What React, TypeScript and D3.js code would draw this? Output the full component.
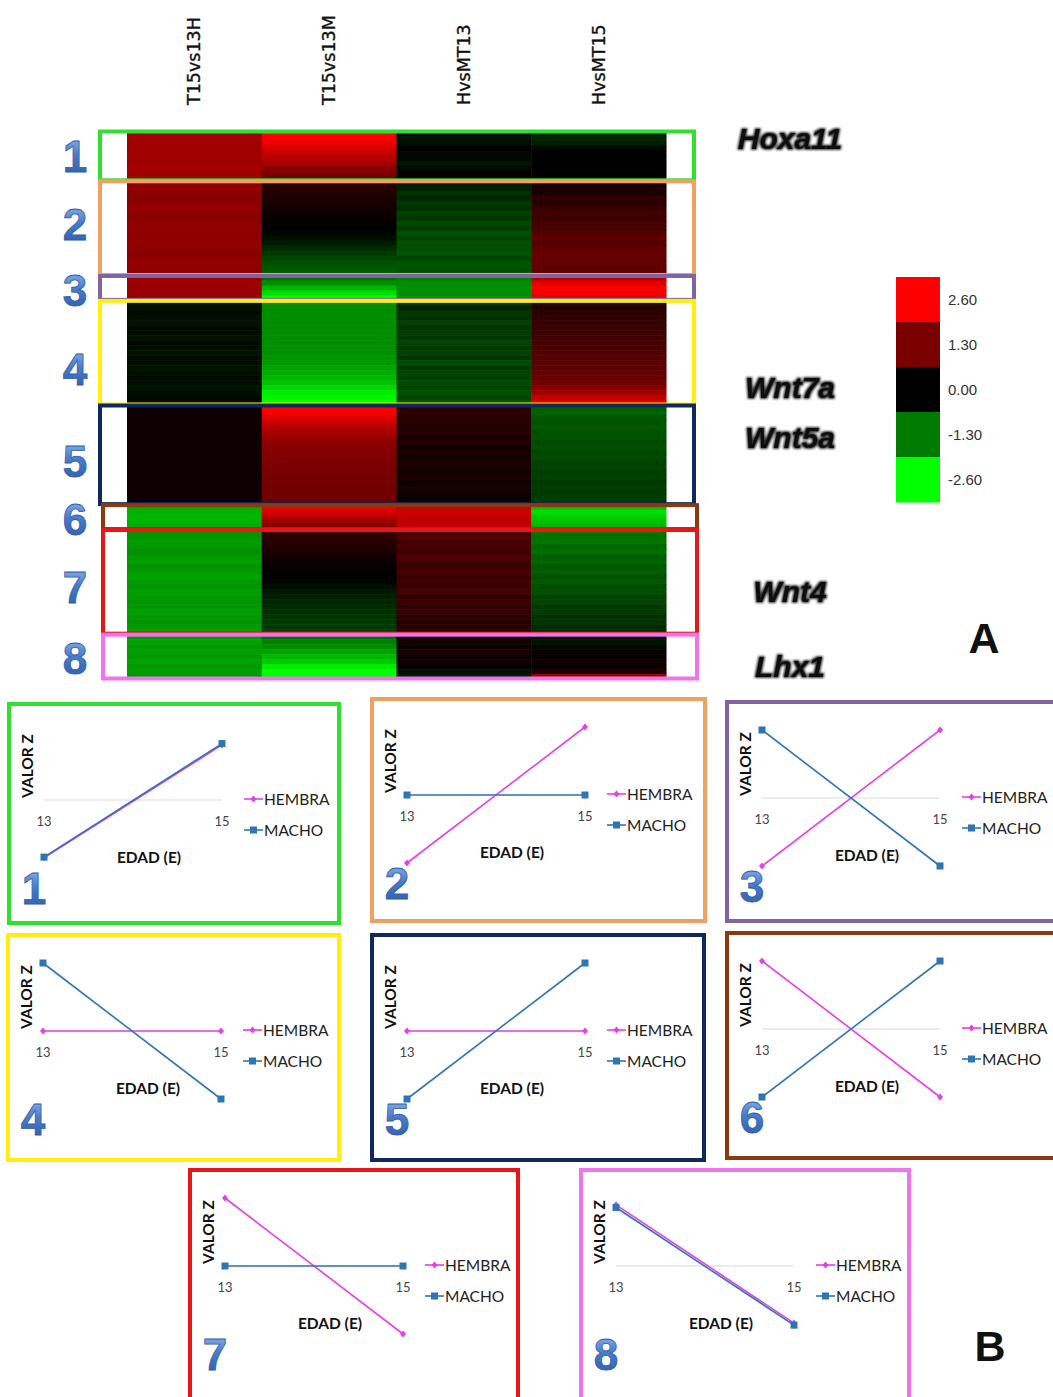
import * as d3 from 'd3';

// ---- heatmap data (log ratios, one row = one gene, columns in order) ----
const columns = ['T15vs13H', 'T15vs13M', 'HvsMT13', 'HvsMT15'];

const cluster1 = [
  [1.7, 2.6, -0.1, -0.4], [1.7, 2.5, -0.2, -0.4], [1.65, 2.4, -0.15, -0.3], [1.65, 2.2, 0.05, -0.1],
  [1.7, 2.0, -0.1, 0.0], [1.65, 1.9, -0.05, 0.0], [1.65, 1.7, -0.25, 0.0], [1.7, 1.5, -0.1, 0.05],
  [1.65, 1.3, 0.05, 0.0], [1.7, 1.2, 0.1, 0.1],
];
const cluster2 = [
  [1.5, 0.45, -0.3, 0.25], [1.55, 0.4, -0.35, 0.3], [1.5, 0.35, -0.5, 0.3], [1.45, 0.3, -0.4, 0.5],
  [1.5, 0.25, -0.6, 0.4], [1.55, 0.2, -0.5, 0.6], [1.5, 0.15, -0.7, 0.7], [1.45, 0.1, -0.6, 0.6],
  [1.5, 0.05, -0.8, 0.8], [1.55, 0.0, -0.65, 0.75], [1.5, -0.05, -0.85, 0.9], [1.5, -0.15, -0.7, 1.0],
  [1.55, -0.3, -0.9, 0.9], [1.5, -0.45, -0.8, 1.0], [1.45, -0.6, -0.9, 1.1], [1.5, -0.75, -0.75, 1.05],
  [1.55, -0.85, -0.9, 1.1], [1.5, -0.95, -0.85, 1.0], [1.5, -1.0, -0.9, 1.1],
];
const cluster3 = [
  [1.6, -1.2, -1.4, 1.9], [1.65, -1.5, -1.5, 2.3], [1.6, -1.9, -1.5, 2.6], [1.6, -2.3, -1.5, 2.5],
  [1.55, -2.6, -1.55, 2.3],
];
const cluster4 = [
  [-0.15, -1.5, -0.5, 0.35], [-0.2, -1.5, -0.4, 0.4], [-0.1, -1.5, -0.6, 0.45], [-0.15, -1.5, -0.5, 0.5],
  [-0.2, -1.5, -0.7, 0.55], [-0.1, -1.5, -0.5, 0.6], [-0.15, -1.5, -0.65, 0.65], [-0.2, -1.5, -0.55, 0.7],
  [-0.1, -1.5, -0.75, 0.75], [-0.15, -1.5, -0.6, 0.8], [-0.2, -1.5, -0.7, 0.85], [-0.1, -1.55, -0.55, 0.9],
  [-0.15, -1.6, -0.8, 0.95], [-0.2, -1.7, -0.6, 1.0], [-0.15, -1.8, -0.75, 1.05], [-0.1, -1.9, -0.65, 1.1],
  [-0.15, -2.0, -0.8, 1.2], [-0.2, -2.2, -0.7, 1.4], [-0.15, -2.4, -0.85, 1.7], [-0.1, -2.5, -0.75, 2.0],
  [-0.15, -2.6, -0.9, 2.2],
];
const cluster5 = [
  [0.15, 2.6, 0.5, -1.0], [0.15, 2.5, 0.45, -1.05], [0.15, 2.3, 0.4, -0.95], [0.15, 2.1, 0.45, -0.9],
  [0.15, 1.9, 0.35, -0.95], [0.15, 1.75, 0.4, -0.85], [0.15, 1.6, 0.3, -0.9], [0.15, 1.5, 0.35, -0.8],
  [0.15, 1.45, 0.25, -0.85], [0.15, 1.4, 0.3, -0.75], [0.15, 1.35, 0.2, -0.8], [0.15, 1.35, 0.3, -0.7],
  [0.15, 1.3, 0.25, -0.75], [0.15, 1.3, 0.2, -0.65], [0.15, 1.25, 0.3, -0.7], [0.15, 1.25, 0.15, -0.6],
  [0.15, 1.2, 0.25, -0.65], [0.15, 1.2, 0.2, -0.6], [0.15, 1.2, 0.1, -0.65], [0.15, 1.15, 0.2, -0.6],
];
const cluster6 = [
  [-1.8, 2.4, 2.0, -2.0], [-1.85, 2.2, 2.1, -2.3], [-1.9, 1.9, 2.0, -2.1], [-1.85, 1.6, 1.95, -2.0],
  [-1.8, 1.4, 2.0, -1.9],
];
const cluster7 = [
  [-1.6, 0.5, 0.6, -1.3], [-1.55, 0.45, 0.9, -1.2], [-1.65, 0.4, 0.7, -1.25], [-1.6, 0.35, 0.8, -1.1],
  [-1.5, 0.3, 0.6, -1.2], [-1.6, 0.2, 0.85, -1.0], [-1.65, 0.15, 0.7, -1.1], [-1.55, 0.1, 0.6, -0.95],
  [-1.6, 0.05, 0.8, -1.0], [-1.7, 0.0, 0.55, -0.85], [-1.6, -0.05, 0.7, -0.95], [-1.55, -0.15, 0.6, -0.8],
  [-1.65, -0.25, 0.75, -0.85], [-1.6, -0.35, 0.5, -0.7], [-1.55, -0.4, 0.65, -0.75], [-1.6, -0.45, 0.5, -0.6],
  [-1.65, -0.5, 0.6, -0.65], [-1.6, -0.55, 0.45, -0.5], [-1.55, -0.6, 0.4, -0.55], [-1.6, -0.6, 0.45, -0.45],
  [-1.65, -0.65, 0.35, -0.4],
];
const cluster8 = [
  [-1.6, -1.2, 0.15, -0.15], [-1.7, -1.35, 0.25, -0.2], [-1.6, -1.5, 0.1, -0.1], [-1.65, -1.7, 0.3, 0.1],
  [-1.6, -1.9, 0.15, 0.05], [-1.7, -2.1, 0.2, 0.15], [-1.6, -2.4, 0.05, 0.1], [-1.65, -2.6, -0.2, 0.3],
  [-1.6, -2.6, -0.3, 1.6],
];
const clusters = [cluster1, cluster2, cluster3, cluster4, cluster5, cluster6, cluster7, cluster8];
const clusterColors = ['#2fe02f', '#f0a060', '#8064a2', '#ffee10', '#10285c', '#8b3a0f', '#e81616', '#ee74ee'];
const clusterShift = [0, 0, 0, 0, 0, 3, 3, 3];
const numberNudge = [0, -4, 2, 16, 6, 2, 5, 1];

const geneLabels = [
  { gene: 'Hoxa11', row: 1 },
  { gene: 'Wnt7a', row: 51 },
  { gene: 'Wnt5a', row: 61 },
  { gene: 'Wnt4', row: 92 },
  { gene: 'Lhx1', row: 107 },
];

const legendValues = [2.6, 1.3, 0, -1.3, -2.6];

// ---- panel B data (z-score per sex at E13 / E15) ----
const ages = [13, 15];
const hembraZ = [[-0.85, 0.81], [-1, 1], [-1, 1], [0, 0], [0, 0], [1, -1], [1, -1], [0.9, -0.84]];
const machoZ = [[-0.84, 0.83], [0, 0], [1, -1], [1, -1], [-1, 1], [-1, 1], [0, 0], [0.86, -0.87]];

const panelBoxes = [
  { x: 9, y: 704, w: 330, h: 219 },
  { x: 372, y: 699, w: 333, h: 222 },
  { x: 727, y: 702, w: 332, h: 219 },
  { x: 8, y: 935, w: 331, h: 225 },
  { x: 372, y: 935, w: 332, h: 225 },
  { x: 727, y: 933, w: 332, h: 225 },
  { x: 190, y: 1170, w: 328, h: 232 },
  { x: 581, y: 1170, w: 328, h: 232 },
];

const HEMBRA_COLOR = '#e63fe6';
const MACHO_COLOR = '#2e75b6';

const heatColor = d3.scaleLinear<string>()
  .domain([-2.6, -1.3, 0, 1.3, 2.6])
  .range(['#00ff00', '#007a00', '#000000', '#7a0000', '#ff0000'])
  .clamp(true);

const numberFont = "'Liberation Sans', Arial, sans-serif";
const panelFont = "Lato, 'Open Sans', sans-serif";
const fmt = (v: number) => d3.format('.2f')(v).replace('\u2212', '-');

function BlueNumber({ x, y, label, size = 44 }: { x: number; y: number; label: string; size?: number }) {
  return (
    <text x={x} y={y} fontFamily={numberFont} fontWeight="bold" fontSize={size}
      fill="url(#numGrad)" stroke="#2f5ea8" strokeWidth={0.8} textAnchor="middle">
      {label}
    </text>
  );
}

function Panel({ index }: { index: number }) {
  const b = panelBoxes[index];
  const zero = b.y + 96;
  const x = d3.scaleLinear().domain([13, 15]).range([b.x + 35, b.x + 213]);
  const y = d3.scaleLinear().domain([-1, 1]).range([zero + 68, zero - 68]);
  const line = d3.line<number>().x((_, i) => x(ages[i])).y(d => y(d));
  const hem = hembraZ[index];
  const mac = machoZ[index];
  const lx = b.x + 235;
  const diamond = (cx: number, cy: number) => `M${cx},${cy - 3.5}L${cx + 3},${cy}L${cx},${cy + 3.5}L${cx - 3},${cy}Z`;
  return (
    <g>
      <rect x={b.x} y={b.y} width={b.w} height={b.h} fill="#fff" stroke={clusterColors[index]} strokeWidth={4} />
      <line x1={x(13)} x2={x(15)} y1={y(0)} y2={y(0)} stroke="#d9d9d9" strokeWidth={1.2} />
      {ages.map(a => (
        <text key={a} x={x(a)} y={zero + 26} fontFamily={panelFont} fontSize={13} fill="#444" textAnchor="middle">{a}</text>
      ))}
      <path d={line(hem) || ''} fill="none" stroke={HEMBRA_COLOR} strokeWidth={1.6} />
      {hem.map((v, i) => <path key={i} d={diamond(x(ages[i]), y(v))} fill={HEMBRA_COLOR} />)}
      <path d={line(mac) || ''} fill="none" stroke={MACHO_COLOR} strokeWidth={1.6} />
      {mac.map((v, i) => <rect key={i} x={x(ages[i]) - 3.5} y={y(v) - 3.5} width={7} height={7} fill={MACHO_COLOR} />)}
      <text transform={`translate(${b.x + 24},${b.y + 62}) rotate(-90)`} textAnchor="middle"
        fontFamily={panelFont} fontWeight="bold" fontSize={15.5} fill="#111">VALOR Z</text>
      <text x={b.x + 140} y={b.y + 159} textAnchor="middle" fontFamily={panelFont} fontWeight="bold" fontSize={15.5} fill="#111">EDAD (E)</text>
      <line x1={lx} x2={lx + 19} y1={b.y + 95} y2={b.y + 95} stroke={HEMBRA_COLOR} strokeWidth={1.6} />
      <path d={diamond(lx + 9.5, b.y + 95)} fill={HEMBRA_COLOR} />
      <text x={lx + 20} y={b.y + 100.5} fontFamily={panelFont} fontSize={15.5} fill="#222">HEMBRA</text>
      <line x1={lx} x2={lx + 19} y1={b.y + 126} y2={b.y + 126} stroke={MACHO_COLOR} strokeWidth={1.6} />
      <rect x={lx + 6} y={b.y + 122.5} width={7} height={7} fill={MACHO_COLOR} />
      <text x={lx + 20} y={b.y + 131.5} fontFamily={panelFont} fontSize={15.5} fill="#222">MACHO</text>
      <BlueNumber x={b.x + 25} y={b.y + 200} label={String(index + 1)} />
    </g>
  );
}

export default function App() {
  const allRows = clusters.flat();
  const xCol = d3.scaleBand().domain(columns).range([127, 666]);
  const yRow = d3.scaleBand<number>().domain(d3.range(allRows.length)).range([131, 679]);
  const bw = yRow.bandwidth();

  let start = 0;
  const spans = clusters.map(c => {
    const s = { start, count: c.length };
    start += c.length;
    return s;
  });

  const legendY = d3.scaleBand<number>().domain(legendValues).range([277, 502]);

  return (
    <svg width={1053} height={1397} style={{ position: 'absolute', left: 0, top: 0, background: '#fff' }}>
      <defs>
        <linearGradient id="numGrad" x1="0" y1="0" x2="0" y2="1">
          <stop offset="0%" stopColor="#9dbdf0" />
          <stop offset="45%" stopColor="#4a7dcc" />
          <stop offset="100%" stopColor="#2a58a6" />
        </linearGradient>
        <filter id="glow" x="-10%" y="-30%" width="120%" height="160%">
          <feMorphology in="SourceAlpha" operator="dilate" radius={1.3} result="d" />
          <feGaussianBlur in="d" stdDeviation={1.2} result="b" />
          <feFlood floodColor="#333" />
          <feComposite in2="b" operator="in" result="halo" />
          <feMerge>
            <feMergeNode in="halo" />
            <feMergeNode in="SourceGraphic" />
          </feMerge>
        </filter>
      </defs>

      {/* column headers */}
      {columns.map(c => (
        <text key={c} transform={`translate(${(xCol(c) || 0) + xCol.bandwidth() / 2},105) rotate(-90)`}
          fontFamily="'DejaVu Sans', Verdana, sans-serif" fontSize={17.5} fill="#111" stroke="#111"
          strokeWidth={0.35} dominantBaseline="central">
          {c}
        </text>
      ))}

      {/* heat cells */}
      {allRows.map((row, i) =>
        row.map((v, j) => (
          <rect key={`${i}-${j}`} x={xCol(columns[j])} y={yRow(i)} width={xCol.bandwidth() + 0.5}
            height={bw + 0.6} fill={heatColor(v)} />
        ))
      )}

      {/* cluster boxes and numbers */}
      {spans.map((s, k) => {
        const y0 = (yRow(s.start) || 0) + 0.5;
        const h = s.count * bw - 1;
        return (
          <g key={k}>
            <rect x={100 + clusterShift[k]} y={y0} width={594} height={h} fill="none"
              stroke={clusterColors[k]} strokeWidth={4} />
            <BlueNumber x={75} y={y0 + h / 2 + 16 + numberNudge[k]} label={String(k + 1)} />
          </g>
        );
      })}

      {/* gene names */}
      {geneLabels.map(g => (
        <text key={g.gene} x={790} y={(yRow(g.row) || 0) + bw / 2} textAnchor="middle" dominantBaseline="central"
          fontFamily={numberFont} fontWeight="bold" fontStyle="italic" fontSize={30} fill="#111" filter="url(#glow)">
          {g.gene}
        </text>
      ))}

      {/* colour legend */}
      {legendValues.map(v => (
        <g key={v}>
          <rect x={896} y={legendY(v)} width={44} height={legendY.bandwidth() + 0.5} fill={heatColor(v)} />
          <text x={948} y={(legendY(v) || 0) + legendY.bandwidth() / 2 + 5} fontFamily="'Liberation Sans', Arial, sans-serif"
            fontSize={15} fill="#333">{fmt(v)}</text>
        </g>
      ))}

      <text x={984} y={653} textAnchor="middle" fontFamily={numberFont} fontWeight="bold" fontSize={43} fill="#111">A</text>

      {panelBoxes.map((_, i) => <Panel key={i} index={i} />)}

      <text x={990} y={1361} textAnchor="middle" fontFamily={numberFont} fontWeight="bold" fontSize={43} fill="#111">B</text>
    </svg>
  );
}
